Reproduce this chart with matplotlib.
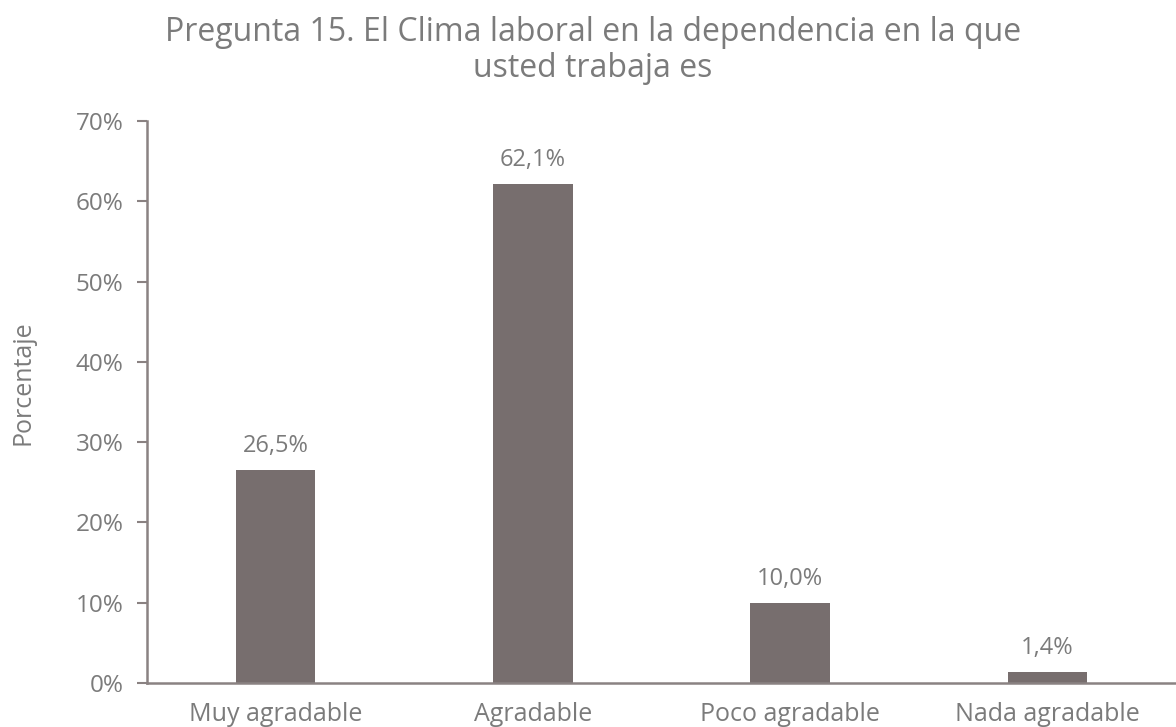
import matplotlib.pyplot as plt
from matplotlib.ticker import PercentFormatter

categorias = ['Muy agradable', 'Agradable', 'Poco agradable', 'Nada agradable']
porcentajes = [26.5, 62.1, 10.0, 1.4]
etiquetas = ['26,5%', '62,1%', '10,0%', '1,4%']

gris_texto = '#7b7b7b'
gris_barra = '#776e6e'
gris_eje = '#8a8282'

plt.rcParams['font.family'] = ['Open Sans', 'DejaVu Sans']

fig = plt.figure(figsize=(11.76, 7.27), dpi=100)
ax = fig.add_axes([0.125, 0.0605, 0.875, 0.7731])

x = range(len(categorias))
ax.bar(x, porcentajes, width=0.31, color=gris_barra)
for xi, v, t in zip(x, porcentajes, etiquetas):
    ax.text(xi, v + 1.5, t, ha='center', va='bottom', fontsize=17, color=gris_texto)

ax.set_xlim(-0.5, len(categorias) - 0.5)
ax.set_ylim(0, 70)
ax.set_yticks(range(0, 71, 10))
ax.yaxis.set_major_formatter(PercentFormatter(decimals=0))
ax.set_xticks(list(x))
ax.set_xticklabels(categorias)
ax.tick_params(axis='x', length=0, pad=14, labelsize=18, labelcolor=gris_texto)
ax.tick_params(axis='y', length=7, width=1.5, color=gris_eje, pad=10, labelsize=17.5, labelcolor=gris_texto)

for s in ['top', 'right']:
    ax.spines[s].set_visible(False)
for s in ['left', 'bottom']:
    ax.spines[s].set_color(gris_eje)
    ax.spines[s].set_linewidth(1.8)

ax.set_ylabel('Porcentaje', fontsize=18, color=gris_texto, labelpad=20)
ax.yaxis.set_label_coords(-0.108, 0.534)
fig.text(0.504, 0.978, 'Pregunta 15. El Clima laboral en la dependencia en la que\nusted trabaja es',
         ha='center', va='top', fontsize=23, color=gris_texto, linespacing=1.12)

fig.savefig('out.png', dpi=100)
